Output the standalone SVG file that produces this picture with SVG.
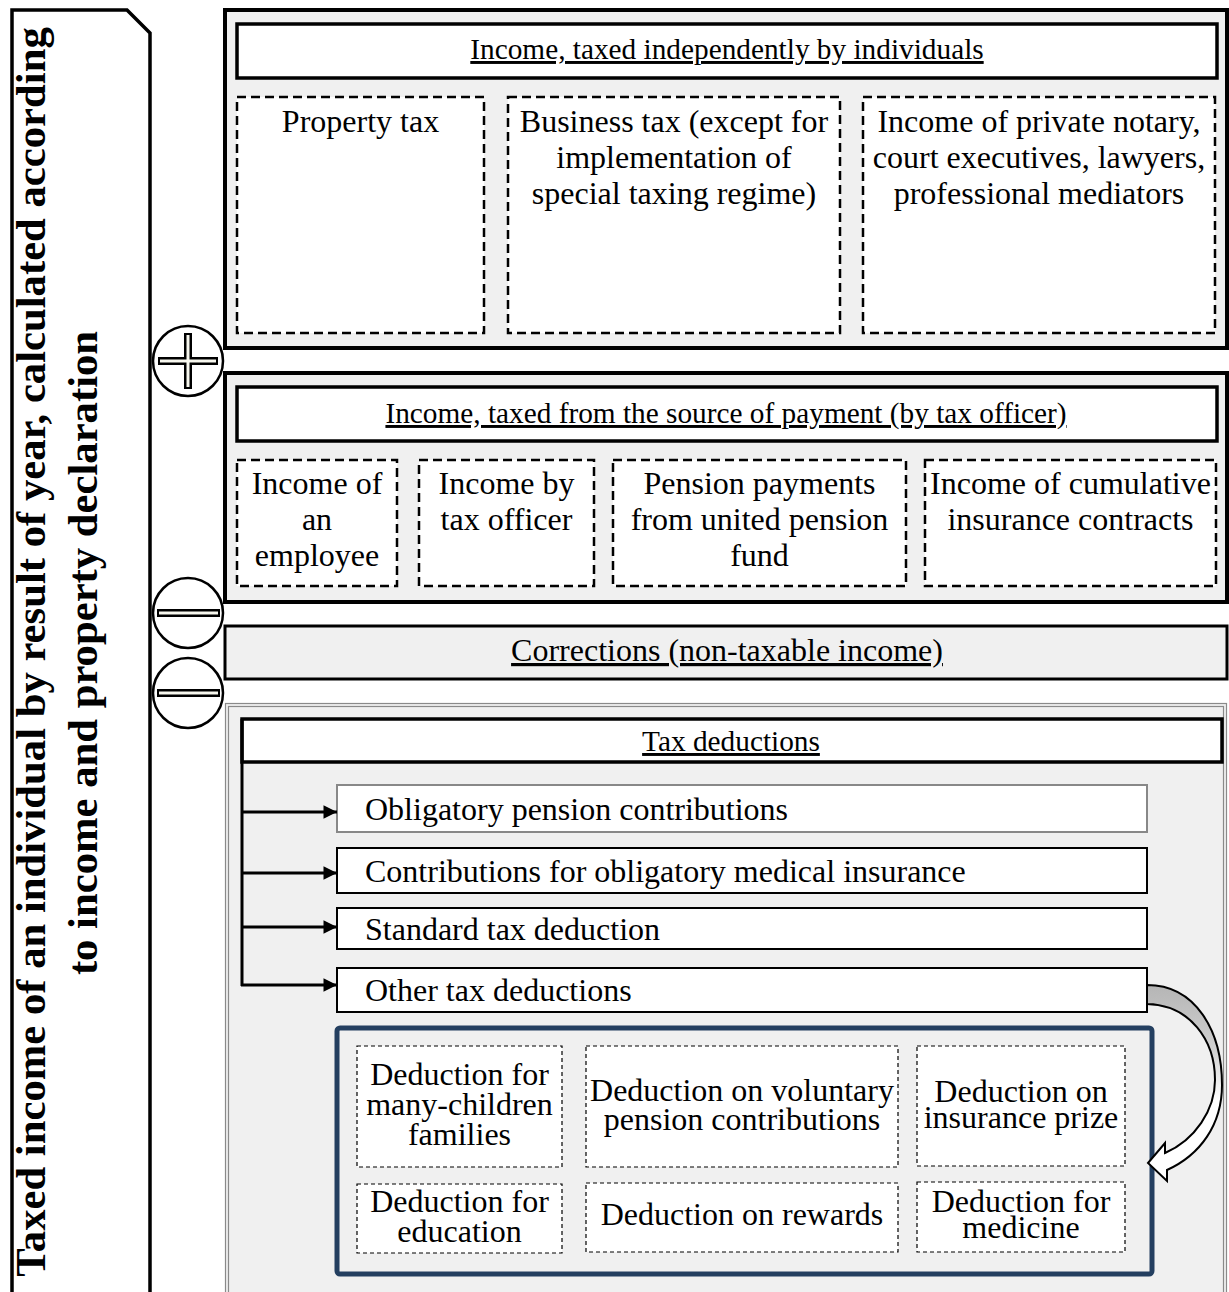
<svg xmlns="http://www.w3.org/2000/svg" width="1229" height="1292" viewBox="0 0 1229 1292">
<defs>
<style>
.t{font-family:"Liberation Serif","Times New Roman",serif;font-size:32px;fill:#000}
.c{text-anchor:middle}
.u{text-decoration:underline}
.h29{font-size:29.3px}
.big{font-size:42.7px;font-weight:bold}
.sec{fill:#f0f0f0;stroke:#000;stroke-width:4}
.hdr{fill:#fff;stroke:#000;stroke-width:3.5}
.dash{fill:#fff;stroke:#000;stroke-width:2.5;stroke-dasharray:9 5}
.dash2{fill:#fff;stroke:#000;stroke-width:1.2;stroke-dasharray:4 3}
.item{fill:#fff;stroke:#000;stroke-width:2}
.circ{fill:#fff;stroke:#000;stroke-width:2.5}
.signo{stroke:#000;stroke-width:8;fill:none}
.signi{stroke:#f7f7ee;stroke-width:3;fill:none}
.conn{stroke:#000;stroke-width:3;fill:none}
</style>
<marker id="ah" viewBox="0 0 10 10" refX="10" refY="5" markerWidth="5.5" markerHeight="4.5" markerUnits="strokeWidth" orient="auto">
<path d="M0,0 L10,5 L0,10 Z" fill="#000"/>
</marker>
<linearGradient id="ga" x1="0" y1="985" x2="0" y2="1100" gradientUnits="userSpaceOnUse">
<stop offset="0" stop-color="#b5b5b5"/>
<stop offset="0.55" stop-color="#d0d0d0"/>
<stop offset="1" stop-color="#ffffff"/>
</linearGradient>
</defs>
<rect width="1229" height="1292" fill="#fff"/>

<g id="main-label">
<path d="M12,1300 L12,10 L127,10 L150,33 L150,1300" fill="#fff" stroke="#000" stroke-width="3.5"/>
<text class="t c big" transform="translate(45,652) rotate(-90)">Taxed income of an individual by result of year, calculated according</text>
<text class="t c big" transform="translate(97,653) rotate(-90)">to income and property declaration</text>
</g>

<g id="section-independent">
<rect class="sec" x="225" y="10" width="1002" height="338"/>
<rect class="hdr" x="237" y="24" width="980" height="54"/>
<text class="t c u h29" x="727" y="59">Income, taxed independently by individuals</text>
<g id="property-tax">
<rect class="dash" x="237" y="97" width="247" height="236"/>
<text class="t c" x="360.5" y="132">Property tax</text>
</g>
<g id="business-tax">
<rect class="dash" x="508" y="97" width="332" height="236"/>
<text class="t c" x="674" y="132">Business tax (except for</text>
<text class="t c" x="674" y="168">implementation of</text>
<text class="t c" x="674" y="204">special taxing regime)</text>
</g>
<g id="notary-income">
<rect class="dash" x="863" y="97" width="352" height="236"/>
<text class="t c" x="1039" y="132">Income of private notary,</text>
<text class="t c" x="1039" y="168">court executives, lawyers,</text>
<text class="t c" x="1039" y="204">professional mediators</text>
</g>
</g>

<g id="section-source">
<rect class="sec" x="225" y="373" width="1002" height="229"/>
<rect class="hdr" x="237" y="387" width="980" height="54"/>
<text class="t c u h29" x="726" y="423">Income, taxed from the source of payment (by tax officer)</text>
<g id="employee-income">
<rect class="dash" x="237" y="460" width="160" height="126"/>
<text class="t c" x="317" y="494">Income of</text>
<text class="t c" x="317" y="530">an</text>
<text class="t c" x="317" y="566">employee</text>
</g>
<g id="officer-income">
<rect class="dash" x="419" y="460" width="175" height="126"/>
<text class="t c" x="506.5" y="494">Income by</text>
<text class="t c" x="506.5" y="530">tax officer</text>
</g>
<g id="pension-payments">
<rect class="dash" x="613" y="460" width="293" height="126"/>
<text class="t c" x="759.5" y="494">Pension payments</text>
<text class="t c" x="759.5" y="530">from united pension</text>
<text class="t c" x="759.5" y="566">fund</text>
</g>
<g id="insurance-income">
<rect class="dash" x="925" y="460" width="291" height="126"/>
<text class="t c" x="1070.5" y="494">Income of cumulative</text>
<text class="t c" x="1070.5" y="530">insurance contracts</text>
</g>
</g>

<g id="section-corrections">
<rect x="225" y="626" width="1002" height="53" fill="#f0f0f0" stroke="#000" stroke-width="3"/>
<text class="t c u" x="727" y="661">Corrections (non-taxable income)</text>
</g>

<g id="section-deductions">
<rect x="225.5" y="703.5" width="1001" height="600" fill="#f0f0f0" stroke="#8a8a8a" stroke-width="1.2"/>
<rect x="228.5" y="706.5" width="995" height="600" fill="none" stroke="#8a8a8a" stroke-width="1.2"/>
<g id="tax-deductions">
<rect class="hdr" x="242" y="719" width="980" height="43" stroke-width="3"/>
<text class="t c u h29" x="731" y="751">Tax deductions</text>
</g>
<g id="obligatory-pension">
<rect x="337" y="785" width="810" height="47" fill="#fff" stroke="#888" stroke-width="2"/>
<text class="t" x="365" y="820">Obligatory pension contributions</text>
</g>
<g id="medical-insurance">
<rect class="item" x="337" y="848" width="810" height="45"/>
<text class="t" x="365" y="882">Contributions for obligatory medical insurance</text>
</g>
<g id="standard-deduction">
<rect class="item" x="337" y="908" width="810" height="41"/>
<text class="t" x="365" y="940">Standard tax deduction</text>
</g>
<g id="other-deductions">
<rect class="item" x="337" y="968" width="810" height="44"/>
<text class="t" x="365" y="1001">Other tax deductions</text>
</g>
<g id="other-deductions-group">
<rect x="337" y="1028" width="815" height="246" rx="3" fill="#f0f0f0" stroke="#243f60" stroke-width="5"/>
<g id="many-children">
<rect class="dash2" x="357" y="1046" width="205" height="121"/>
<text class="t c" x="459.5" y="1085">Deduction for</text>
<text class="t c" x="459.5" y="1115">many-children</text>
<text class="t c" x="459.5" y="1145">families</text>
</g>
<g id="voluntary-pension">
<rect class="dash2" x="586" y="1046" width="312" height="121"/>
<text class="t c" x="742" y="1101">Deduction on voluntary</text>
<text class="t c" x="742" y="1130">pension contributions</text>
</g>
<g id="insurance-prize">
<rect class="dash2" x="917" y="1046" width="208" height="120"/>
<text class="t c" x="1021" y="1102">Deduction on</text>
<text class="t c" x="1021" y="1128">insurance prize</text>
</g>
<g id="education">
<rect class="dash2" x="357" y="1184" width="205" height="69"/>
<text class="t c" x="459.5" y="1212">Deduction for</text>
<text class="t c" x="459.5" y="1242">education</text>
</g>
<g id="rewards">
<rect class="dash2" x="586" y="1183" width="312" height="69"/>
<text class="t c" x="742" y="1225">Deduction on rewards</text>
</g>
<g id="medicine">
<rect class="dash2" x="917" y="1182" width="208" height="70"/>
<text class="t c" x="1021" y="1212">Deduction for</text>
<text class="t c" x="1021" y="1238">medicine</text>
</g>
</g>
</g>

<g id="operators">
<g id="plus">
<circle class="circ" cx="188" cy="361" r="35"/>
<path class="signo" d="M158,361 H218 M188,333 V389"/>
<path class="signi" d="M160,361 H216 M188,335 V387"/>
</g>
<g id="minus1">
<circle class="circ" cx="188" cy="613" r="35"/>
<path class="signo" d="M157,613 H220"/>
<path class="signi" d="M159,613 H218"/>
</g>
<g id="minus2">
<circle class="circ" cx="188" cy="693" r="35"/>
<path class="signo" d="M157,693 H220"/>
<path class="signi" d="M159,693 H218"/>
</g>
</g>

<g id="connectors">
<path class="conn" d="M242,719 V986"/>
<path class="conn" d="M241,812 H337" marker-end="url(#ah)"/>
<path class="conn" d="M241,873 H337" marker-end="url(#ah)"/>
<path class="conn" d="M241,927 H337" marker-end="url(#ah)"/>
<path class="conn" d="M241,985 H337" marker-end="url(#ah)"/>
<path d="M1147,985 C1195,985 1222,1030 1222,1085 C1222,1125 1200,1155 1167,1170 L1167,1181 L1148,1163 L1165,1143 L1165,1153 C1195,1140 1215,1110 1215,1080 C1215,1040 1190,1005 1147,1004 Z" fill="url(#ga)" stroke="#000" stroke-width="2" stroke-linejoin="miter"/>
</g>
</svg>
